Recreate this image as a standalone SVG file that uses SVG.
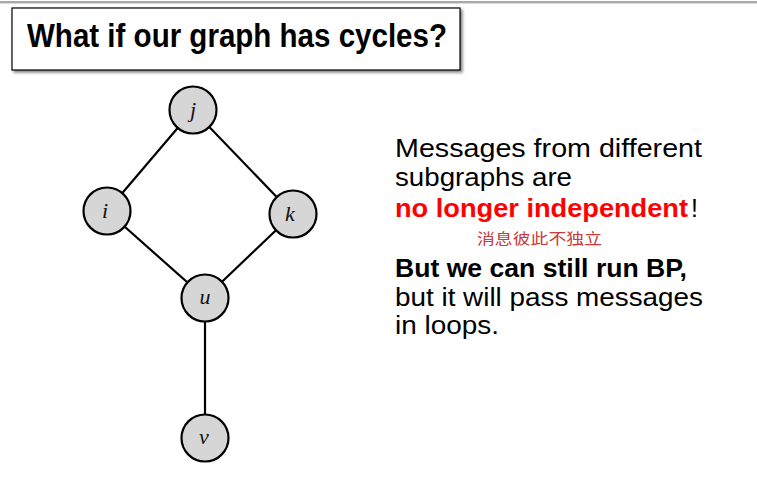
<svg xmlns="http://www.w3.org/2000/svg" width="757" height="490" viewBox="0 0 757 490">
<defs>
<filter id="sh" x="-5%" y="-20%" width="110%" height="150%">
<feDropShadow dx="2" dy="2" stdDeviation="1.5" flood-color="#000" flood-opacity="0.5"/>
</filter>
</defs>
<style>
.edge{stroke:#000;stroke-width:2.2;fill:none}
.node circle{fill:#d6d6d6;stroke:#000;stroke-width:2.2}
.node text{font-family:"Liberation Serif","DejaVu Serif",serif;font-style:italic;font-size:22px;fill:#111;text-anchor:middle}
.body{font-family:"Liberation Sans",Arial,sans-serif;font-size:25px;fill:#000}
.b{font-weight:bold}
</style>
<rect x="0" y="0" width="757" height="490" fill="#fff"/>
<rect x="0" y="1" width="757" height="2" fill="#a8a8a8"/>
<rect x="0" y="3" width="757" height="1" fill="#dcdcdc"/>
<g id="title">
<rect x="12" y="8" width="448" height="62" fill="#fff" stroke="#000" stroke-width="1.2" filter="url(#sh)"/>
<text x="27" y="47" class="body b" style="font-size:33px" textLength="420" lengthAdjust="spacingAndGlyphs">What if our graph has cycles?</text>
</g>
<g id="connectors">
<line class="edge" x1="193" y1="110" x2="107" y2="211"/>
<line class="edge" x1="193" y1="110" x2="293" y2="214"/>
<line class="edge" x1="107" y1="211" x2="205" y2="298"/>
<line class="edge" x1="293" y1="214" x2="205" y2="298"/>
<line class="edge" x1="205" y1="298" x2="205" y2="438"/>
</g>
<g id="node-j" class="node"><circle cx="193" cy="110" r="23.5"/><text x="193" y="117">j</text></g>
<g id="node-i" class="node"><circle cx="107" cy="211" r="23.5"/><text x="105" y="218">i</text></g>
<g id="node-k" class="node"><circle cx="293" cy="214" r="23.5"/><text x="290" y="221">k</text></g>
<g id="node-u" class="node"><circle cx="205" cy="298" r="23.5"/><text x="205" y="304">u</text></g>
<g id="node-v" class="node"><circle cx="205" cy="438" r="23.5"/><text x="204" y="444">v</text></g>
<g id="text">
<text class="body" x="395" y="157" textLength="307" lengthAdjust="spacingAndGlyphs">Messages from different</text>
<text class="body" x="395" y="186" textLength="177" lengthAdjust="spacingAndGlyphs">subgraphs are</text>
<text class="body b" x="395" y="217" style="fill:#ff0000" textLength="293" lengthAdjust="spacingAndGlyphs">no longer independent</text>
<text class="body" x="691" y="217">!</text>
<text x="477" y="244" font-family="'Noto Sans CJK SC',sans-serif" font-size="15" fill="#cc3a3a" textLength="125" lengthAdjust="spacingAndGlyphs">消息彼此不独立</text>
<text class="body b" x="395" y="277" textLength="292" lengthAdjust="spacingAndGlyphs">But we can still run BP,</text>
<text class="body" x="395" y="306" textLength="308" lengthAdjust="spacingAndGlyphs">but it will pass messages</text>
<text class="body" x="395" y="334" textLength="104" lengthAdjust="spacingAndGlyphs">in loops.</text>
</g>
</svg>
